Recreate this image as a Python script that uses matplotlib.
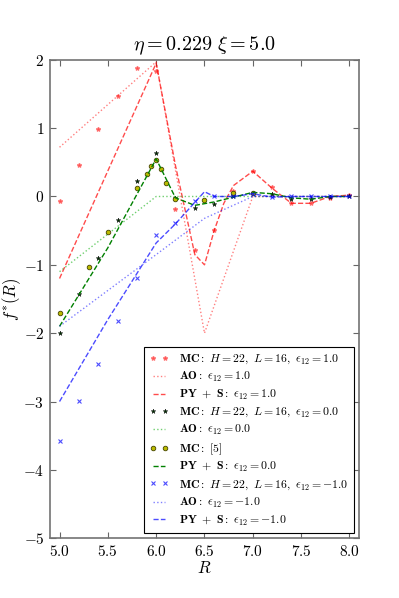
import numpy as np
import matplotlib
matplotlib.use('Agg')
from matplotlib import pyplot as plt

plt.rcParams['mathtext.fontset'] = 'cm'
plt.rcParams['font.family'] = 'serif'
plt.rcParams['font.serif'] = ['cmr10', 'DejaVu Serif']
plt.rcParams['axes.formatter.use_mathtext'] = True
plt.rcParams['axes.unicode_minus'] = True

# MC grid: R = 5.0 ... 8.0 in steps of 0.2
r_mc = [5.0, 5.2, 5.4, 5.6, 5.8, 6.0, 6.2, 6.4, 6.6, 6.8, 7.0, 7.2, 7.4, 7.6, 7.8, 8.0]

# epsilon_12 = 1.0
mc_pos = [-0.06, 0.46, 0.99, 1.47, 1.88, 1.83, -0.18, -0.79, -0.49, 0.08, 0.37, 0.14, -0.10, -0.10, -0.02, 0.02]
r_ao_pos = [5.0, 6.0, 6.5, 7.0, 8.0]
ao_pos = [0.72, 1.97, -2.0, 0.0, 0.0]
r_py_pos = [5.0, 6.0, 6.2, 6.4, 6.5, 6.6, 6.7, 6.8, 7.0, 7.2, 7.4, 7.6, 7.8, 8.0]
py_pos = [-1.2, 1.95, 0.45, -0.85, -1.0, -0.5, -0.1, 0.16, 0.37, 0.12, -0.10, -0.10, 0.0, 0.02]

# epsilon_12 = 0.0
mc_zero = [-2.0, -1.43, -0.90, -0.34, 0.23, 0.63, -0.02, -0.17, -0.11, 0.0, 0.05, 0.04, -0.03, -0.03, -0.01, 0.0]
r_ao_zero = [5.0, 6.0, 8.0]
ao_zero = [-1.1, 0.0, 0.0]
r_ref = [5.0, 5.3, 5.5, 5.8, 5.9, 5.95, 6.0, 6.05, 6.1, 6.2, 6.5, 6.8, 7.0]
mc_ref = [-1.70, -1.03, -0.52, 0.12, 0.33, 0.44, 0.53, 0.40, 0.20, -0.03, -0.05, 0.05, 0.05]
r_py_zero = [5.0, 5.5, 6.0, 6.2, 6.4, 6.6, 7.0, 7.2, 7.4, 7.6, 7.8, 8.0]
py_zero = [-1.9, -0.75, 0.55, -0.02, -0.13, -0.08, 0.06, 0.04, -0.02, -0.04, 0.0, 0.0]

# epsilon_12 = -1.0
mc_neg = [-3.58, -2.99, -2.45, -1.82, -1.20, -0.57, -0.39, -0.06, 0.0, 0.0, 0.04, -0.01, 0.0, 0.0, 0.0, 0.0]
r_ao_neg = [5.0, 6.0, 6.5, 7.0, 8.0]
ao_neg = [-1.9, -0.85, -0.32, 0.0, 0.0]
r_py_neg = [5.0, 5.5, 6.0, 6.2, 6.5, 6.6, 6.8, 7.0, 7.2, 7.4, 8.0]
py_neg = [-3.0, -1.8, -0.68, -0.4, 0.07, 0.0, 0.0, 0.04, -0.01, 0.0, 0.0]

fig = plt.figure(figsize=(3.99, 5.98), dpi=100)
ax = fig.add_axes([0.125, 0.1, 0.775, 0.8])

ax.plot(r_mc, mc_pos, '*', color='r', alpha=0.45, ms=3.2, mec='r',
        label=r'$\mathbf{MC{:}}\ H=22,\ L=16,\ \epsilon_{12}=1.0$')
ax.plot(r_ao_pos, ao_pos, ':', color='r', alpha=0.5, lw=1,
        label=r'$\mathbf{AO{:}}\ \epsilon_{12}=1.0$')
ax.plot(r_py_pos, py_pos, '--', color='r', alpha=0.7, lw=1,
        label=r'$\mathbf{PY\ +\ S{:}}\ \epsilon_{12}=1.0$')

ax.plot(r_mc, mc_zero, '*', color='#003300', ms=3.5, mec='k', mew=0.3,
        label=r'$\mathbf{MC{:}}\ H=22,\ L=16,\ \epsilon_{12}=0.0$')
ax.plot(r_ao_zero, ao_zero, ':', color='#33bb33', alpha=0.7, lw=1,
        label=r'$\mathbf{AO{:}}\ \epsilon_{12}=0.0$')
ax.plot(r_ref, mc_ref, 'o', color='#bbbb00', ms=3.3, mec='#444400', mew=0.6,
        label=r'$\mathbf{MC{:}}\ [5]$')
ax.plot(r_py_zero, py_zero, '--', color='g', lw=1,
        label=r'$\mathbf{PY\ +\ S{:}}\ \epsilon_{12}=0.0$')

ax.plot(r_mc, mc_neg, 'x', color='b', alpha=0.7, ms=3, mew=0.8,
        label=r'$\mathbf{MC{:}}\ H=22,\ L=16,\ \epsilon_{12}=-1.0$')
ax.plot(r_ao_neg, ao_neg, ':', color='b', alpha=0.5, lw=1,
        label=r'$\mathbf{AO{:}}\ \epsilon_{12}=-1.0$')
ax.plot(r_py_neg, py_neg, '--', color='b', alpha=0.7, lw=1,
        label=r'$\mathbf{PY\ +\ S{:}}\ \epsilon_{12}=-1.0$')

ax.set_xlim(4.9, 8.1)
ax.set_ylim(-5, 2)
ax.set_xticks([5.0, 5.5, 6.0, 6.5, 7.0, 7.5, 8.0])
ax.set_yticks([-5, -4, -3, -2, -1, 0, 1, 2])
ax.tick_params(direction='in', top=True, right=True, length=4, width=0.8,
               labelsize=11, color='0.4', pad=4)
for s in ax.spines.values():
    s.set_color('0.45')
    s.set_linewidth(1.2)

ax.set_title(r'$\eta=0.229\ \xi=5.0$', fontsize=14.5, pad=7)
ax.set_xlabel(r'$R$', fontsize=12, labelpad=1)
ax.set_ylabel(r'$f^{*}(R)$', fontsize=12, labelpad=0)

leg = ax.legend(loc='lower right', numpoints=2, fontsize=8.5, fancybox=False,
                framealpha=1, edgecolor='k', handlelength=1.6, handletextpad=0.9,
                borderaxespad=0.4, labelspacing=0.33, borderpad=0.5)
leg.get_frame().set_linewidth(0.8)

plt.savefig('out.png', dpi=100)
